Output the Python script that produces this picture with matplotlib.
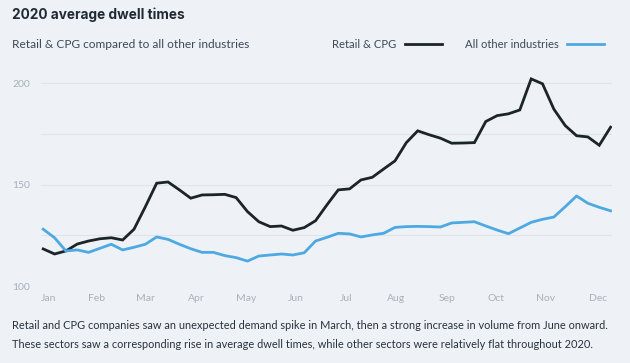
import matplotlib.pyplot as plt

# weekly averages, 2020
weeks = list(range(51))
retail_cpg = [118.3, 115.8, 117.3, 120.7, 122.2, 123.3, 123.8, 122.7, 128.0, 139.1,
              150.7, 151.3, 147.4, 143.3, 144.9, 145.0, 145.2, 143.6, 136.7, 131.7,
              129.3, 129.6, 127.5, 128.8, 132.2, 140.0, 147.4, 147.9, 152.3, 153.6,
              157.7, 161.7, 170.7, 176.5, 174.6, 172.9, 170.4, 170.5, 170.7, 181.1,
              184.0, 184.9, 186.8, 202.1, 199.7, 187.2, 179.1, 174.1, 173.5, 169.4,
              178.3]
other = [128.0, 123.8, 117.3, 117.8, 116.6, 118.6, 120.6, 117.8, 119.1, 120.6,
         124.2, 123.0, 120.6, 118.4, 116.6, 116.6, 115.0, 114.0, 112.3, 114.8,
         115.3, 115.8, 115.3, 116.4, 122.2, 124.0, 126.0, 125.7, 124.2, 125.2,
         126.0, 128.9, 129.3, 129.4, 129.3, 129.1, 131.1, 131.4, 131.7, 129.6,
         127.6, 125.8, 128.6, 131.4, 132.9, 134.0, 139.1, 144.4, 140.8, 138.8,
         137.1]
months = ['Jan', 'Feb', 'Mar', 'Apr', 'May', 'Jun', 'Jul', 'Aug', 'Sep', 'Oct', 'Nov', 'Dec']
month_pos = [0.5, 4.7, 9.0, 13.5, 17.9, 22.3, 26.7, 31.1, 35.6, 39.9, 44.3, 48.9]

bg = '#eef2f7'
plt.rcParams['font.family'] = ['Lato', 'DejaVu Sans']

fig = plt.figure(figsize=(6.3, 3.63), dpi=100, facecolor=bg)
ax = fig.add_axes([0.065, 0.212, 0.906, 0.598], facecolor=bg)

ax.plot(weeks, retail_cpg, color='#1b2428', lw=2.0, label='Retail & CPG', solid_joinstyle='miter')
ax.plot(weeks, other, color='#4ea9e2', lw=2.0, label='All other industries')

ax.set_xlim(-0.2, 50.1)
ax.set_ylim(100, 207)
ax.set_yticks([100, 125, 150, 175, 200])
ax.set_yticklabels(['100', '', '150', '', '200'])
ax.set_xticks(month_pos)
ax.set_xticklabels(months)
ax.tick_params(length=0, labelsize=7.5, labelcolor='#a7b1bc')
ax.tick_params(axis='y', pad=8)
ax.tick_params(axis='x', pad=6)
ax.grid(axis='y', color='#dfe4eb', lw=0.8)
ax.set_axisbelow(True)
for s in ax.spines.values():
    s.set_visible(False)

fig.text(0.019, 0.958, '2020 average dwell times', fontsize=9.8, fontweight='bold',
         color='#1f2a33', va='center', family=['Inter', 'DejaVu Sans'])
fig.text(0.019, 0.878, 'Retail & CPG compared to all other industries', fontsize=8.6,
         color='#3b4a58', va='center')

fig.legend(loc='center right', bbox_to_anchor=(0.975, 0.878), ncol=2, frameon=False,
           markerfirst=False, fontsize=8.1, labelcolor='#3b4a58', handlelength=3.3,
           handletextpad=0.75, columnspacing=2.0)

fig.text(0.019, 0.102, 'Retail and CPG companies saw an unexpected demand spike in March, '
         'then a strong increase in volume from June onward.', fontsize=7.9,
         color='#27323c', va='center')
fig.text(0.019, 0.052, 'These sectors saw a corresponding rise in average dwell times, '
         'while other sectors were relatively flat throughout 2020.', fontsize=7.9,
         color='#27323c', va='center')

fig.savefig('out.png', dpi=100, facecolor=bg)
